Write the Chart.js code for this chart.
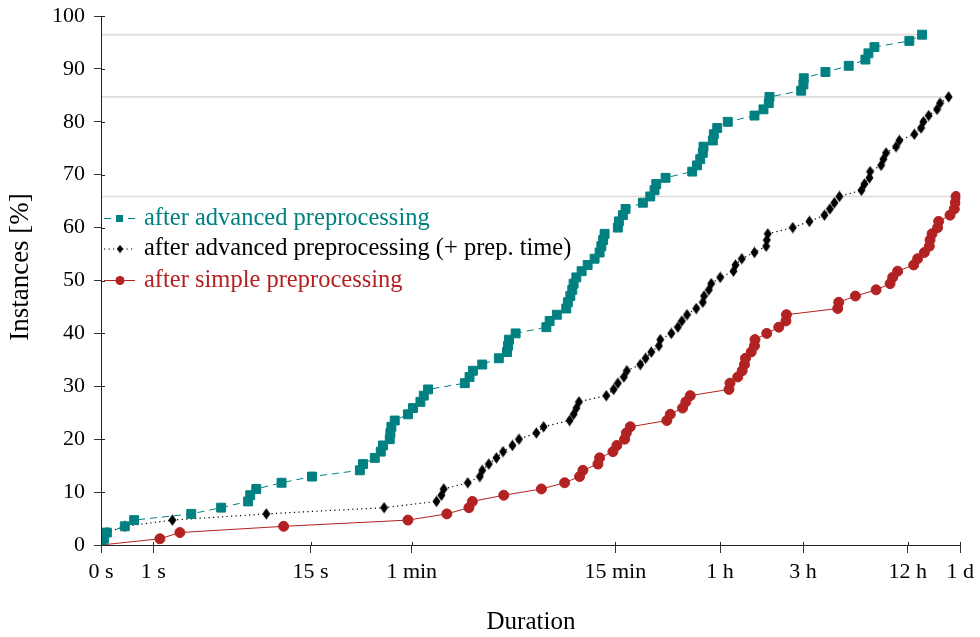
<!DOCTYPE html>
<html>
<head>
<meta charset="utf-8">
<title>Solved instances over time</title>
<script src="https://cdn.jsdelivr.net/npm/chart.js@4.4.0/dist/chart.umd.min.js"></script>
<style>
  html, body { margin: 0; padding: 0; background: #fff; }
  #wrap { width: 980px; height: 637px; }
</style>
</head>
<body>
<div id="wrap"><canvas id="chart" width="980" height="637"></canvas></div>
<script>
'use strict';
// total number of benchmark instances (y = solved / total in %)
const instanceCount = 85;

// solve times in seconds, sorted (one entry per solved instance, first is the origin)
const advancedTimes = [
  0, 0.04, 0.08, 0.37, 0.55, 2.3, 3.9, 6.0, 6.2, 6.8,
  9.9, 15.3, 29.7, 31, 36.4, 39.5, 40.7, 44.6, 45, 45.6,
  47.7, 57, 61, 67.4, 70.5, 74.7, 122, 130, 136, 154,
  192, 214, 217, 220, 240, 361, 377, 415, 470, 480,
  496, 509, 518, 537, 576, 624, 684, 731, 748, 766,
  781, 931, 944, 995, 1031, 1297, 1430, 1513, 1548, 1751,
  2492, 2655, 2770, 2866, 2893, 3272, 3316, 3468, 3989, 5678,
  6396, 6861, 6924, 10530, 10850, 10900, 14520, 19760, 24640, 25640,
  27760, 44060, 52120
];
const advancedPrepTimes = [
  0, 0.04, 0.08, 0.37, 1.57, 7.9, 41.3, 83.6, 89.3, 92.1,
  127, 149, 154, 168, 186, 203, 230, 251, 316, 348,
  491, 518, 537, 556, 799, 880, 931, 1008, 1049, 1253,
  1344, 1449, 1602, 1632, 1888, 2060, 2172, 2326, 2627, 2866,
  2912, 3104, 3204, 3609, 4302, 4417, 4800, 5678, 6629, 6681,
  6771, 9423, 11750, 14320, 15400, 16350, 17470, 23370, 24320, 25980,
  26220, 30310, 31240, 32380, 36960, 38610, 47090, 51440, 53030, 56870,
  63550, 66120, 74080
];
const simpleTimes = [
  0, 1.18, 1.84, 10.2, 57, 96, 129, 135, 205, 338,
  460, 561, 586, 715, 731, 872, 919, 1018, 1041, 1098,
  1781, 1863, 2192, 2290, 2427, 4053, 4107, 4552, 4825, 4976,
  5041, 5438, 5678, 5716, 6681, 7831, 8610, 8669, 17080, 17310,
  21590, 28380, 34150, 35340, 37750, 46660, 49180, 53730, 57410, 57950,
  59500, 64050, 64910, 75460, 79880, 80950, 81700
];

const seriesNames = [
  'after advanced preprocessing',
  'after advanced preprocessing (+ prep. time)',
  'after simple preprocessing'
];
const seriesColors = ['#008080', '#000000', '#b22222'];

const tickSeconds = [0, 1, 15, 60, 900, 3600, 10800, 43200, 86400];
const tickLabels = ['0 s', '1 s', '15 s', '1 min', '15 min', '1 h', '3 h', '12 h', '1 d'];
const yTicks = [0, 10, 20, 30, 40, 50, 60, 70, 80, 90, 100];

const FONT = '"Liberation Serif", "DejaVu Serif", serif';

// the x axis is log(1 + seconds)
function toAxis(sec) {
  return Math.log10(1 + sec);
}

function toPoints(times) {
  return times.map((t, i) => ({ x: toAxis(t), y: i / instanceCount * 100 }));
}

// grey guide from the y axis to the last point of a series
function guideLine(times) {
  const pts = toPoints(times);
  const last = pts[pts.length - 1];
  return {
    data: [{ x: 0, y: last.y }, { x: last.x, y: last.y }],
    borderColor: '#dcdcdc',
    borderWidth: 1.6,
    pointRadius: 0,
    showLine: true
  };
}

// small upright diamond, like pgfplots diamond*
function diamond(color) {
  const c = document.createElement('canvas');
  c.width = 9;
  c.height = 12;
  const g = c.getContext('2d');
  g.fillStyle = color;
  g.beginPath();
  g.moveTo(4.5, 0.3);
  g.lineTo(8.5, 6);
  g.lineTo(4.5, 11.7);
  g.lineTo(0.5, 6);
  g.closePath();
  g.fill();
  return c;
}

const blackDiamond = diamond(seriesColors[1]);

const datasets = [
  {
    label: seriesNames[0],
    data: toPoints(advancedTimes),
    borderColor: seriesColors[0],
    backgroundColor: seriesColors[0],
    borderWidth: 1,
    borderDash: [7, 5],
    pointStyle: 'rect',
    pointRadius: 6.3,
    pointBorderWidth: 1
  },
  {
    label: seriesNames[1],
    data: toPoints(advancedPrepTimes),
    borderColor: seriesColors[1],
    backgroundColor: seriesColors[1],
    borderWidth: 1.2,
    borderDash: [1.2, 3.3],
    pointStyle: blackDiamond,
    pointRadius: 5
  },
  {
    label: seriesNames[2],
    data: toPoints(simpleTimes),
    borderColor: seriesColors[2],
    backgroundColor: seriesColors[2],
    borderWidth: 1,
    pointStyle: 'circle',
    pointRadius: 5,
    pointBorderWidth: 1
  },
  guideLine(advancedTimes),
  guideLine(advancedPrepTimes),
  guideLine(simpleTimes)
];

const legendRows = [218.5, 249, 280.5];

const decorPlugin = {
  id: 'decor',
  afterDraw(chart) {
    const ctx = chart.ctx;
    const xs = chart.scales.x;
    const ys = chart.scales.y;
    ctx.save();

    // y axis line again on top of the grey guides, plus short inward tick stubs
    ctx.strokeStyle = '#222';
    ctx.lineWidth = 1;
    ctx.setLineDash([]);
    ctx.beginPath();
    const ax = Math.round(xs.left) + 0.5;
    ctx.moveTo(ax, ys.top);
    ctx.lineTo(ax, ys.bottom);
    tickSeconds.forEach(s => {
      const px = Math.round(xs.getPixelForValue(toAxis(s))) + 0.5;
      ctx.moveTo(px, ys.bottom);
      ctx.lineTo(px, ys.bottom - 3);
    });
    yTicks.forEach(v => {
      const py = Math.round(ys.getPixelForValue(v)) + 0.5;
      ctx.moveTo(xs.left, py);
      ctx.lineTo(xs.left + 4, py);
    });
    ctx.stroke();

    // legend inside the plot
    for (let i = 0; i < 3; i++) {
      const ds = chart.data.datasets[i];
      const y = legendRows[i];
      ctx.strokeStyle = ds.borderColor;
      ctx.lineWidth = ds.borderWidth;
      ctx.setLineDash(ds.borderDash || []);
      ctx.beginPath();
      ctx.moveTo(104, y);
      ctx.lineTo(135, y);
      ctx.stroke();
      ctx.setLineDash([]);
      ctx.fillStyle = ds.backgroundColor;
      if (ds.pointStyle === 'rect') {
        ctx.fillRect(116, y - 3.5, 7, 7);
      } else if (ds.pointStyle === 'circle') {
        ctx.beginPath();
        ctx.arc(120, y, 4.5, 0, Math.PI * 2);
        ctx.fill();
      } else {
        ctx.drawImage(ds.pointStyle, 120 - 3.5, y - 4.5, 7, 9);
      }
      ctx.font = '24.5px ' + FONT;
      ctx.textBaseline = 'middle';
      ctx.textAlign = 'left';
      ctx.fillText(seriesNames[i], 144, y);
    }

    // axis titles
    ctx.fillStyle = '#000';
    ctx.font = '25px ' + FONT;
    ctx.textAlign = 'center';
    ctx.textBaseline = 'middle';
    ctx.fillText('Duration', 531, 622);
    ctx.translate(21, 267);
    ctx.rotate(-Math.PI / 2);
    ctx.font = '27px ' + FONT;
    ctx.fillText('Instances [%]', 0, 0);
    ctx.restore();
  }
};

new Chart(document.getElementById('chart'), {
  type: 'scatter',
  data: { datasets: datasets },
  options: {
    responsive: false,
    animation: false,
    showLine: true,
    layout: { padding: { top: 16, right: 19, left: 0, bottom: 0 } },
    plugins: {
      legend: { display: false },
      tooltip: { enabled: false }
    },
    elements: {
      line: { tension: 0, fill: false }
    },
    scales: {
      x: {
        type: 'linear',
        min: 0,
        max: toAxis(86400),
        afterFit: s => { s.height = 92; },
        afterBuildTicks: s => { s.ticks = tickSeconds.map(v => ({ value: toAxis(v) })); },
        grid: { drawOnChartArea: false, tickLength: 8, color: '#333' },
        border: { color: '#222', width: 1 },
        ticks: {
          autoSkip: false,
          maxRotation: 0,
          padding: 6,
          color: '#000',
          font: { family: FONT, size: 22 },
          callback: (v, i) => tickLabels[i]
        }
      },
      y: {
        min: 0,
        max: 100,
        afterFit: s => { s.width = 101; },
        afterBuildTicks: s => { s.ticks = yTicks.map(v => ({ value: v })); },
        grid: { drawOnChartArea: false, tickLength: 7, color: '#333' },
        border: { color: '#222', width: 1 },
        ticks: {
          padding: 9,
          color: '#000',
          font: { family: FONT, size: 22, lineHeight: 0.6 }
        }
      }
    }
  },
  plugins: [decorPlugin]
});
</script>
</body>
</html>
